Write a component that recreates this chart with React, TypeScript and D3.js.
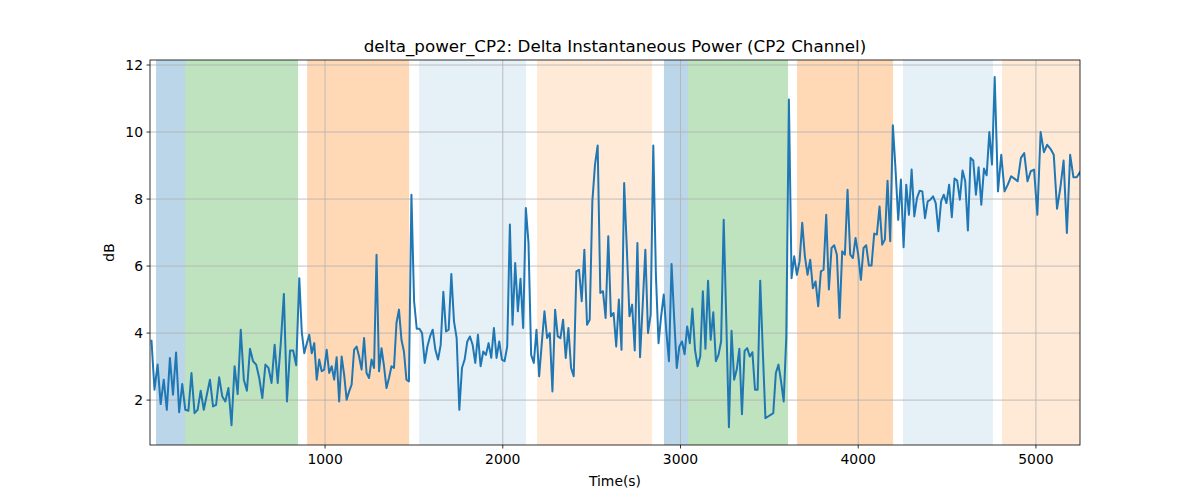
import React from "react";
import * as d3 from "d3";

const values: number[] = [
  3.8, 2.31, 3.06, 1.88, 2.61, 1.71, 3.26, 2.16, 3.42, 1.64, 2.48, 1.71, 1.68, 2.81, 1.61, 1.71, 2.28, 1.71, 2.16, 2.61,
  1.81, 1.86, 2.68, 2.11, 1.96, 2.36, 1.25, 3.01, 2.18, 4.1, 2.61, 2.28, 3.53, 3.16, 3.06, 2.66, 2.06, 3.06, 2.96, 2.51,
  3.65, 2.51, 3.7, 5.17, 1.96, 3.48, 3.48, 3.04, 5.64, 4.03, 3.4, 3.69,
  3.95, 3.4, 3.7, 2.61, 3.21, 2.86, 2.91, 3.5, 2.81, 3.01, 2.61, 3.28, 1.96, 3.3, 2.76, 2.01, 2.26, 2.46, 3.5, 3.6,
  3.3, 2.91, 3.85, 2.81, 2.66, 3.21, 2.96, 6.34, 2.86, 3.55, 3.01, 2.36, 2.66, 3.01, 2.96, 4.3, 4.7, 3.8, 3.45, 2.61,
  2.56, 8.13, 4.95, 4.13, 4.13, 4.0, 3.11, 3.6, 3.9, 4.1, 3.5, 3.21, 3.65, 5.23, 4.05, 4.1, 5.76, 4.35, 3.85, 1.71,
  2.96, 3.21, 3.75, 3.9, 3.65, 3.11, 3.95, 3.01, 3.45, 3.35, 3.7, 3.26, 4.15, 3.26, 3.75, 3.21, 3.16, 3.6, 7.24, 4.25,
  6.09, 4.65, 5.62, 4.15, 7.73, 6.69, 3.35, 3.11, 4.1, 2.71, 3.7, 4.65, 3.85, 4.0, 2.26, 4.7, 3.9, 3.85, 4.4, 3.26,
  4.15, 2.96, 2.71, 5.84, 5.89, 4.95, 6.49, 4.25, 4.4, 7.93, 9.03, 9.6, 5.2, 5.25, 4.45, 6.89, 4.5, 4.6,
  3.6, 5.0, 3.5, 8.48, 6.54, 4.5, 4.85, 3.48, 6.69, 3.28, 4.85, 6.49, 4.0, 4.55, 9.6, 5.74, 3.7, 4.5, 5.15, 4.05,
  3.16, 6.06, 4.45, 2.96, 3.6, 3.75, 3.37, 4.2, 3.7, 4.73, 3.5, 3.01, 3.3, 5.25, 3.53, 5.56, 3.8, 4.62, 3.16, 3.35,
  3.75, 7.38, 4.35, 1.19, 4.07, 2.61, 2.91, 3.53, 1.58, 3.47, 3.55, 3.3, 3.43, 2.31, 2.31, 5.56, 3.45, 1.46,
  1.51, 1.56, 1.61, 2.81, 3.06, 2.56, 1.96, 3.9, 10.97, 5.64, 6.29, 5.74, 6.14, 7.29, 6.29, 5.74, 6.19, 5.34, 5.54, 4.8,
  5.84, 5.89, 7.53, 5.3, 6.54, 6.62, 6.34, 4.45, 6.44, 6.34, 8.28, 6.34, 6.24, 6.84, 6.34, 5.59, 6.54, 6.62, 6.02, 6.02,
  6.97, 6.94, 7.78, 6.64, 6.79, 8.55, 6.74, 10.2, 8.88, 7.38, 8.58, 6.56, 8.43, 7.53, 8.88, 7.48, 8.03, 8.25,
  8.23, 7.43, 7.93, 7.98, 8.08, 7.88, 7.04, 7.93, 8.13, 7.88, 8.43, 7.46, 8.61, 8.55, 7.98, 8.85, 8.53, 7.06, 9.23, 9.15,
  8.13, 8.95, 7.83, 8.91, 8.71, 10.0, 9.03, 11.64, 8.23, 9.32, 8.23, 8.43, 8.68, 8.61, 8.53, 9.23, 9.37, 8.53, 8.83, 8.88,
  7.53, 10.0, 9.4, 9.62, 9.5, 9.32, 7.71, 8.33, 9.15, 6.99, 9.32, 8.65, 8.65, 8.81, 8.35, 8.83, 9.42, 9.92, 9.0, 9.12,
];

// sample index -> time (s) at recognisable peaks
const anchorIndex = [0, 48, 93, 163, 184, 236, 275, 313, 339];
const anchorTime = [23, 855, 1486, 2534, 2847, 3610, 4195, 4768, 5248];
const timeOf = d3.scaleLinear().domain(anchorIndex).range(anchorTime);
const times = values.map((_, i) => timeOf(i));

const spans: { start: number; end: number; color: string; opacity: number }[] = [
  { start: 49, end: 212, color: "#1f77b4", opacity: 0.3 },
  { start: 212, end: 848, color: "#2ca02c", opacity: 0.3 },
  { start: 899, end: 1473, color: "#ff7f0e", opacity: 0.3 },
  { start: 1529, end: 2131, color: "#1f77b4", opacity: 0.11 },
  { start: 2193, end: 2840, color: "#ff7f0e", opacity: 0.16 },
  { start: 2907, end: 3042, color: "#1f77b4", opacity: 0.3 },
  { start: 3042, end: 3605, color: "#2ca02c", opacity: 0.3 },
  { start: 3656, end: 4196, color: "#ff7f0e", opacity: 0.3 },
  { start: 4252, end: 4758, color: "#1f77b4", opacity: 0.11 },
  { start: 4809, end: 5300, color: "#ff7f0e", opacity: 0.16 },
];

const xTicks = [1000, 2000, 3000, 4000, 5000];
const yTicks = [2, 4, 6, 8, 10, 12];

const W = 1200;
const H = 500;
const L = 150;
const R = 1080;
const T = 60;
const B = 445;

export default function App() {
  const x = d3.scaleLinear().domain([15, 5248]).range([L, R]);
  const y = d3.scaleLinear().domain([0.66, 12.15]).range([B, T]);
  const line = d3
    .line<number>()
    .x((_, i) => x(times[i]))
    .y((d) => y(d));

  return (
    <svg
      width={W}
      height={H}
      style={{ position: "absolute", left: 0, top: 0, fontFamily: "DejaVu Sans", background: "#fff" }}
    >
      <defs>
        <clipPath id="plot">
          <rect x={L} y={T} width={R - L} height={B - T} />
        </clipPath>
      </defs>
      <g clipPath="url(#plot)">
        {spans.map((s, i) => (
          <rect
            key={i}
            x={x(s.start)}
            y={T}
            width={x(s.end) - x(s.start)}
            height={B - T}
            fill={s.color}
            fillOpacity={s.opacity}
          />
        ))}
        {xTicks.map((t) => (
          <line key={t} x1={x(t)} x2={x(t)} y1={T} y2={B} stroke="#b0b0b0" strokeWidth={0.8} />
        ))}
        {yTicks.map((t) => (
          <line key={t} x1={L} x2={R} y1={y(t)} y2={y(t)} stroke="#b0b0b0" strokeWidth={0.8} />
        ))}
        <path d={line(values) ?? ""} fill="none" stroke="#1f77b4" strokeWidth={2} strokeLinejoin="round" />
      </g>
      <rect x={L} y={T} width={R - L} height={B - T} fill="none" stroke="#000" strokeWidth={0.8} />
      {xTicks.map((t) => (
        <g key={t} transform={`translate(${x(t)},${B})`}>
          <line y2={3.5} stroke="#000" strokeWidth={0.8} />
          <text y={19} textAnchor="middle" fontSize={13.9}>
            {t}
          </text>
        </g>
      ))}
      {yTicks.map((t) => (
        <g key={t} transform={`translate(${L},${y(t)})`}>
          <line x2={-3.5} stroke="#000" strokeWidth={0.8} />
          <text x={-7} dy="0.35em" textAnchor="end" fontSize={13.9}>
            {t}
          </text>
        </g>
      ))}
      <text x={(L + R) / 2} y={486} textAnchor="middle" fontSize={13.9}>
        Time(s)
      </text>
      <text transform={`translate(114,${(T + B) / 2}) rotate(-90)`} textAnchor="middle" fontSize={13.9}>
        dB
      </text>
      <text x={(L + R) / 2} y={52} textAnchor="middle" fontSize={16.7}>
        delta_power_CP2: Delta Instantaneous Power (CP2 Channel)
      </text>
    </svg>
  );
}
